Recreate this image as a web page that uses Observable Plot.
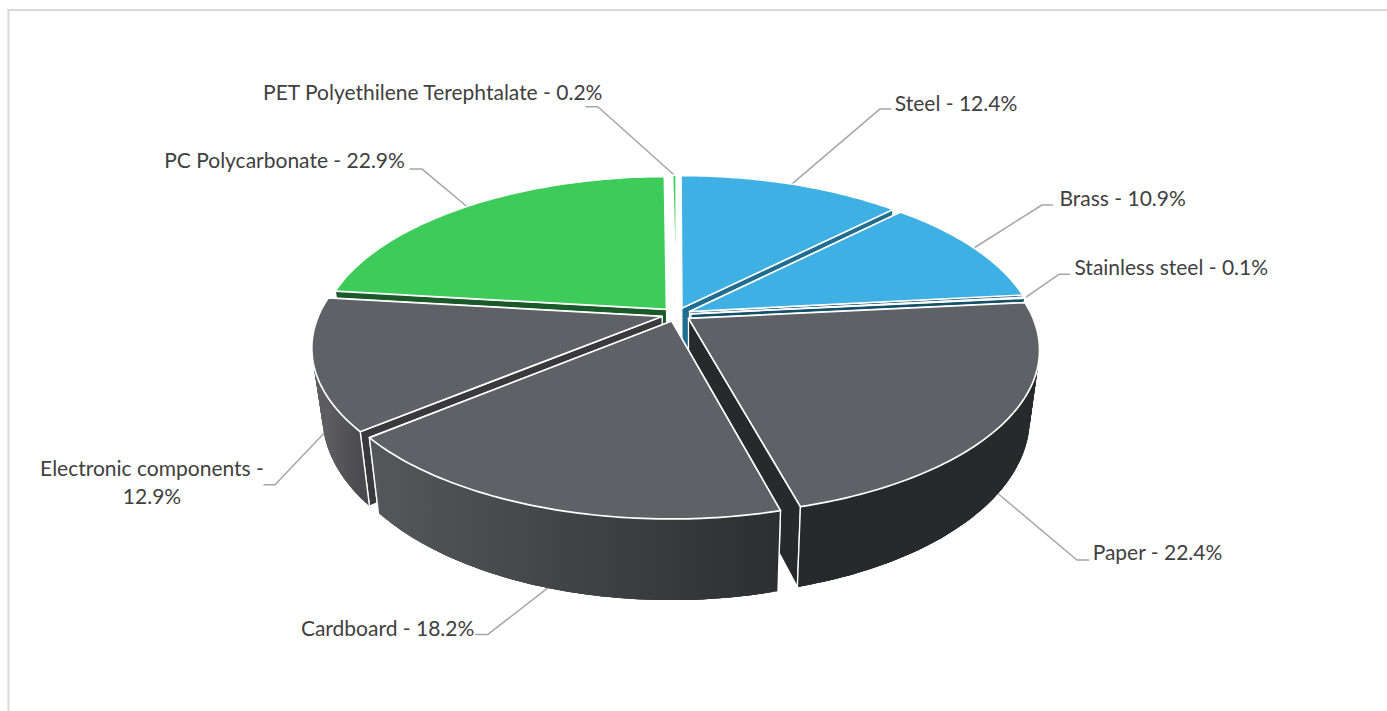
<!DOCTYPE html>
<html><head><meta charset="utf-8">
<style>html,body{margin:0;padding:0;background:#fff}svg{display:block}</style>
<script src="https://cdn.jsdelivr.net/npm/d3@7"></script>
<script src="https://cdn.jsdelivr.net/npm/@observablehq/plot@0.6"></script>
</head><body><div id="chart"></div>
<script>
const materials = ["Steel","Brass","Stainless steel","Paper","Cardboard","Electronic components","PC Polycarbonate","PET Polyethilene Terephtalate"];
const shares    = [12.4,10.9,0.1,22.4,18.2,12.9,22.9,0.2];
const families  = ["metal","metal","metal","other","other","other","plastic","plastic"];

const topColor = {metal:"#3fb0e3", other:"#606166", plastic:"#3dcc59"};
const cutColor = ["#1f6d8f","#155069","#155069","#28292b","#2e2f31","#3a3a3d","#1a5a2a","#1a5a2a"];
const wallFrom = ["#1f6d8f","#155069","#155069","#28292b","#2d2e30","#4b4b4f","#1a5a2a","#1a5a2a"];
const wallTo   = ["#1f6d8f","#155069","#155069","#28292b","#56575b","#5d5d61","#1a5a2a","#1a5a2a"];
const elbowDx = [88,68,33.6,79,-60,-49,-45,-76.5];
const elbowDy = [-75,-43,-23.3,66.5,46.5,51.5,-37.6,-68.5];
const tail    = [11,10.5,10.5,11.7,-12,-11,-12,-12];
const textDx  = [4,7,5,4,-1.5,-112,-5,16.5];
const textDy  = [-5,-6,-5.7,-7,-5,-4,-8,-13];
const order   = [7,0,6,1,2,5,3,4];

const cx = 675.8, cy = 314, Rx = 343.1, Ry = 159, persp = 0.183, burst = 0.043;
const project = (u, v) => { const w = 1 - persp * v; return [cx + Rx * u / w, cy + Ry * v / w]; };
const drop = ([x, y]) => [x + (690 - x) * 0.028, y + 74.5 + 0.077 * (y - 432)];
const total = d3.sum(shares);
let acc = 0;
const slices = materials.map((m, i) => {
  const a0 = acc / total * 2 * Math.PI; acc += shares[i];
  const a1 = acc / total * 2 * Math.PI; const mid = (a0 + a1) / 2;
  return {m, i, a0, a1, mid, ox: burst * Math.sin(mid), oy: -burst * Math.cos(mid)};
});
const rim = (s, a) => project(s.ox + Math.sin(a), s.oy - Math.cos(a));
const apex = s => project(s.ox, s.oy);

const polys = [];
let pid = 0;
const add = (pts, fill, stroke, sw) => {
  const id = pid++;
  pts.forEach(p => polys.push({id, x: p[0], y: p[1], fill, stroke, sw}));
};
const gradients = [];
for (const i of order) {
  const s = slices[i];
  const n = Math.max(2, Math.ceil((s.a1 - s.a0) / (Math.PI / 180)));
  const arc = d3.range(n + 1).map(k => rim(s, s.a0 + (s.a1 - s.a0) * k / n));
  const A = apex(s), B = drop(A);
  // the cut face nearer the viewer goes last so it stays on top of the far one
  for (const P of [arc[0], arc[n]].sort((a, b) => a[1] - b[1])) {
    const Q = drop(P);
    add([A, P, Q, B, A], cutColor[i], "#ffffff", 1.2);
  }
  gradients.push({id: `wall${i}`, x1: arc[0][0], x2: arc[n][0], from: wallFrom[i], to: wallTo[i]});
  for (let k = 0; k < n; k++) {
    const e = Math.min(k + 3, n);
    const strip = arc.slice(k, e + 1);
    add([...strip, ...strip.map(drop).reverse(), strip[0]], `url(#wall${i})`, "none", 0);
  }
  add([arc[0], drop(arc[0])], "none", "#ffffff", 1.4);
  add([arc[n], drop(arc[n])], "none", "#ffffff", 1.4);
  add([A, ...arc, A], topColor[families[i]], "#ffffff", 1.7);
}

const leaders = [], labels = [];
slices.forEach(s => {
  const rimP = rim(s, s.mid);
  const P = Math.cos(s.mid) < 0 || s.m.startsWith("Electronic") ? drop(rimP) : rimP;
  const E = [P[0] + elbowDx[s.i], P[1] + elbowDy[s.i]];
  const T = [E[0] + tail[s.i], E[1]];
  [P, E, T].forEach(p => leaders.push({id: s.i, x: p[0], y: p[1]}));
  const val = `${shares[s.i].toFixed(1)}%`;
  labels.push({
    x: T[0] + textDx[s.i], y: T[1] + textDy[s.i],
    text: s.m.startsWith("Electronic") ? `${s.m} -\n${val}` : `${s.m} - ${val}`,
    anchor: s.m.startsWith("Electronic") ? "middle" : tail[s.i] > 0 ? "start" : "end"
  });
});
const textStyle = {x: "x", y: "y", text: "text", fill: "#404040", fontSize: 21, fontFamily: "Lato"};

const plot = Plot.plot({
  width: 1387, height: 711, margin: 0,
  x: {domain: [0, 1387], range: [0, 1387], axis: null},
  y: {domain: [0, 711], range: [0, 711], axis: null},
  color: {type: "identity"},
  style: {background: "#fff"},
  marks: [
    () => {
      const defs = d3.create("svg:defs");
      const g = defs.selectAll("linearGradient").data(gradients).join("linearGradient")
        .attr("id", d => d.id).attr("gradientUnits", "userSpaceOnUse")
        .attr("x1", d => d.x1).attr("x2", d => d.x2).attr("y1", 0).attr("y2", 0);
      g.append("stop").attr("offset", 0).attr("stop-color", d => d.from);
      g.append("stop").attr("offset", 1).attr("stop-color", d => d.to);
      return defs.node();
    },
    Plot.ruleY([9.5], {x1: 7.5, x2: 1387, stroke: "#d9d9d9", strokeWidth: 2}),
    Plot.ruleX([8], {y1: 9, y2: 711, stroke: "#d9d9d9", strokeWidth: 2}),
    Plot.line(leaders, {x: "x", y: "y", z: "id", stroke: "#a6a6a6", strokeWidth: 1.5}),
    Plot.line(polys, {x: "x", y: "y", z: "id", fill: "fill", stroke: "stroke", strokeWidth: "sw", strokeLinejoin: "round"}),
    Plot.text(labels.filter(d => d.anchor === "start"), {...textStyle, textAnchor: "start"}),
    Plot.text(labels.filter(d => d.anchor === "end"), {...textStyle, textAnchor: "end"}),
    Plot.text(labels.filter(d => d.anchor === "middle"), {...textStyle, textAnchor: "middle", lineHeight: 1.33})
  ]
});
document.getElementById("chart").append(plot);
</script></body></html>
